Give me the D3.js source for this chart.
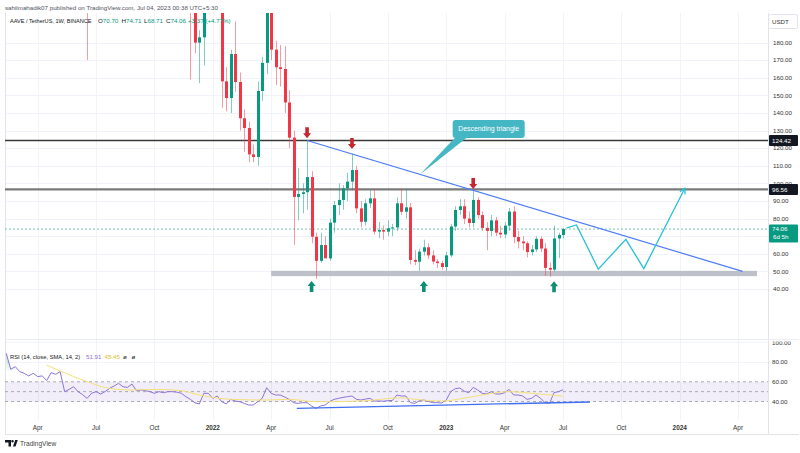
<!DOCTYPE html>
<html><head><meta charset="utf-8">
<script src="https://cdn.jsdelivr.net/npm/d3@7"></script>
<style>body{margin:0;background:#fff}svg{display:block;font-family:"Liberation Sans",Arial,sans-serif}</style>
</head><body><svg id="c" width="800" height="453"></svg>
<script>
// ---------------- DATA ----------------
const candleWeeks = ["2021-06-21","2021-11-29","2021-12-06","2021-12-13","2021-12-20","2021-12-27","2022-01-03","2022-01-10","2022-01-17","2022-01-24","2022-01-31","2022-02-07","2022-02-14","2022-02-21","2022-02-28","2022-03-07","2022-03-14","2022-03-21","2022-03-28","2022-04-04","2022-04-11","2022-04-18","2022-04-25","2022-05-02","2022-05-09","2022-05-16","2022-05-23","2022-05-30","2022-06-06","2022-06-13","2022-06-20","2022-06-27","2022-07-04","2022-07-11","2022-07-18","2022-07-25","2022-08-01","2022-08-08","2022-08-15","2022-08-22","2022-08-29","2022-09-05","2022-09-12","2022-09-19","2022-09-26","2022-10-03","2022-10-10","2022-10-17","2022-10-24","2022-10-31","2022-11-07","2022-11-14","2022-11-21","2022-11-28","2022-12-05","2022-12-12","2022-12-19","2022-12-26","2023-01-02","2023-01-09","2023-01-16","2023-01-23","2023-01-30","2023-02-06","2023-02-13","2023-02-20","2023-02-27","2023-03-06","2023-03-13","2023-03-20","2023-03-27","2023-04-03","2023-04-10","2023-04-17","2023-04-24","2023-05-01","2023-05-08","2023-05-15","2023-05-22","2023-05-29","2023-06-05","2023-06-12","2023-06-19","2023-06-26","2023-07-03"];
const opens  = [285,230,205,180,183,205,218,225,215,158,148.5,173.5,157.6,137,131.5,116.5,115,152.5,168.5,230,176,166,165,146,126,92.3,94,95,103.6,69.7,56,65,57.4,77.7,87.7,90.6,97.2,101,107.6,85.8,78.2,88.7,91.5,72.6,73.5,72.6,74.5,75,88.7,83.9,86.4,56.5,55.5,61.2,63.7,59.1,55.6,54.7,52.5,59.1,75.5,84.9,87,80,77.5,90.6,82,74.7,73,79,72,71,76,84,69.5,67,66,61,62.5,68.5,63,52,51,68.7,70.7];
const highs  = [300,250,214,187,215,232,245,240,222,166,176,192,163,142,135,122,158,172,260,240,181,178.6,178,153,130,108.7,100,124.4,107,72,72,70,80,90,100,99,106,117,110,90,91,96,97,78,76,79,77,92,97,97,89,62,63,68,66,62,57,56,61,77,87,91,91,84,96.5,92,84,78,82,81,76,78,86,87,73,70,67,65,70,70,66,55,76,72,74.71];
const lows   = [170,159,174,157,167,199,200,203,143,141,140,152,130,118,112,112,110,147,162,170,156,155,140,120,65,79,83,85,66,45.7,55,58,56,72,82,85,90,96,83,75,76,86,71,69,68,70,70,73,82,80,54,53.6,50.2,59,57,54,52,51,50.2,58,73,82,77,75,75,80,73,62,70,70,69,69,73,66,63,62,58,59,61,61,47.5,47,50,57.6,68.71];
const closes = [250,205,180,183,205,218,225,215,158,148.5,173.5,157.6,137,131.5,116.5,115,152.5,168.5,230,176,166,165,146,126,92.3,94,95,103.6,69.7,56,65,57.4,77.7,87.7,90.6,97.2,101,107.6,85.8,78.2,88.7,91.5,72.6,73.5,72.6,74.5,75,88.7,83.9,86.4,56.5,55.5,61.2,63.7,59.1,55.6,54.7,52.5,59.1,75.5,84.9,87,80,77.5,90.6,82,74.7,73,79,72,71,76,84,69.5,67,66,61,62.5,68.5,63,52,51,68.7,70.7,74.06];

const rsiStartWeek = "2021-02-15";
const rsiValues = [88.9,72.7,75.4,70.3,68.6,66.0,68.6,65.3,66.0,61.2,69.3,67.6,70.3,
 50.0,52.3,55.0,50.0,47.0,43.2,48.3,50.0,47.6,50.0,
 53.3,55.7,58.4,55.0,54.3,57.7,51.0,51.7,51.0,50.0,
 48.3,50.0,48.9,50.0,50.0,49.5,48.3,44.9,42.2,38.8,
 37.5,48.3,48.3,43.2,45.6,39.8,37.5,42.2,40.5,39.8,
 38.1,36.4,36.4,39.8,43.2,54.0,48.3,46.6,46.6,44.6,
 42.2,38.8,38.1,38.8,38.8,35.4,33.0,35.4,36.4,39.8,
 42.2,43.2,44.2,44.9,45.6,42.2,41.5,42.5,43.2,40.5,
 40.5,40.3,40.8,41.0,46.6,45.6,45.6,38.8,38.1,40.8,
 41.5,40.1,38.8,38.8,38.5,41.5,50.0,53.0,53.7,50.5,
 48.9,54.3,51.7,48.3,47.6,50.0,47.6,47.6,48.9,52.3,
 46.6,46.6,45.6,42.2,43.2,46.6,43.2,38.8,38.1,49.0,
 50.0,51.91];
const rsiMaWeeks = ["2021-04-19","2021-05-10","2021-06-21","2021-07-26","2021-08-30","2021-10-11","2021-11-15","2021-12-13","2022-01-31","2022-03-28","2022-05-02","2022-06-13","2022-07-11","2022-08-29","2022-10-24","2022-11-14","2022-12-26","2023-02-06","2023-02-27","2023-04-10","2023-05-15","2023-07-03"];
const rsiMaValues = [77.0,71.0,60.2,53.3,51.7,52.3,51.0,46.6,42.2,41.5,42.2,39.8,39.8,40.8,43.8,42.2,40.5,44.2,46.6,50.0,48.3,45.45];

const priceTicks = [40,50,60,70,80,90,100,110,120,130,140,150,160,170,180];
const rsiTicks = [100,80,60,40];
const timeTickWeeks = ["2021-04-05","2021-07-05","2021-10-04","2022-01-03","2022-04-04","2022-07-04","2022-10-03","2023-01-02","2023-04-03","2023-07-03","2023-10-02","2024-01-01","2024-04-01"];
const timeTickLabels = ["Apr","Jul","Oct","2022","Apr","Jul","Oct","2023","Apr","Jul","Oct","2024","Apr"];

const resistanceLevels = [124.42, 96.56];
const lastPrice = 74.06;
const supportZone = [47.3, 50.3];
const triangleLine = [["2022-05-30",124.4],["2024-04-08",50.0]];
const projectionWeeks = ["2023-07-09","2023-07-24","2023-08-27","2023-10-09","2023-11-06","2024-01-09"];
const projectionValues = [74.8,76.4,51.3,68.2,51.6,97.2];
const downArrowWeeks = ["2022-05-30","2022-08-08","2023-02-13"];
const downArrowValues = [125.6,119.6,96.8];
const upArrowWeeks = ["2022-06-06","2022-11-28","2023-06-19"];
const upArrowValues = [44.5,44.6,44.4];
const rsiTrend = [["2022-05-14",33.1],["2023-08-14",39.5]];

// ---------------- LAYOUT ----------------
const P = d3.utcParse("%Y-%m-%d");
const PL=5, PR=768, MT=13, MB=339, RT=340, RB=420, AXB=434;
const svg = d3.select("#c");
const x = d3.scaleUtc().domain([P("2021-04-05"), P("2024-04-01")]).range([37.7, 738.1]);
const y = d3.scaleLinear().domain([40,180]).range([289, 42.6]);
const yr = d3.scaleLinear().domain([40,80]).range([401.5, 362.1]);
const UP="#089981", DN="#f23645";
const defs = svg.append("defs");
defs.append("clipPath").attr("id","cm").append("rect").attr("x",PL).attr("y",MT).attr("width",PR-PL).attr("height",MB-MT);
defs.append("clipPath").attr("id","cr").append("rect").attr("x",PL).attr("y",RT).attr("width",PR-PL).attr("height",RB-RT);
defs.append("clipPath").attr("id","ca").append("rect").attr("x",PR).attr("y",341.5).attr("width",800-PR).attr("height",RB-341.5);
const gr = defs.append("linearGradient").attr("id","ob").attr("gradientUnits","userSpaceOnUse")
  .attr("x1",0).attr("x2",0).attr("y1",yr(100)).attr("y2",yr(70));
gr.append("stop").attr("offset","0").attr("stop-color",UP).attr("stop-opacity",0.55);
gr.append("stop").attr("offset","1").attr("stop-color",UP).attr("stop-opacity",0);

// grid
const grid = svg.append("g").attr("stroke","#f0f3fa").attr("stroke-width",1);
timeTickWeeks.forEach(d=>{
  const xx=Math.round(x(P(d)))+0.5;
  grid.append("line").attr("x1",xx).attr("x2",xx).attr("y1",MT).attr("y2",MB);
  grid.append("line").attr("x1",xx).attr("x2",xx).attr("y1",RT).attr("y2",RB);
});
priceTicks.forEach(v=>{const yy=Math.round(y(v))+0.5; grid.append("line").attr("x1",PL).attr("x2",PR).attr("y1",yy).attr("y2",yy);});
[100,80,20].forEach(v=>{const yy=Math.round(yr(v))+0.5; if(yy>RT&&yy<RB) grid.append("line").attr("x1",PL).attr("x2",PR).attr("y1",yy).attr("y2",yy);});

// frame
const fr = svg.append("g").attr("stroke","#e0e3eb").attr("stroke-width",1);
fr.append("line").attr("x1",PL+0.5).attr("x2",PL+0.5).attr("y1",MT).attr("y2",AXB);
fr.append("line").attr("x1",PR+0.5).attr("x2",PR+0.5).attr("y1",MT).attr("y2",AXB);
fr.append("line").attr("x1",PL).attr("x2",799).attr("y1",MB+0.5).attr("y2",MB+0.5).attr("stroke","#eceef3");
fr.append("line").attr("x1",PL).attr("x2",799).attr("y1",AXB+0.5).attr("y2",AXB+0.5);

// main pane
const m = svg.append("g").attr("clip-path","url(#cm)");
m.append("rect").attr("x",x(P("2022-04-04"))).attr("width",757-x(P("2022-04-04")))
  .attr("y",y(supportZone[1])).attr("height",y(supportZone[0])-y(supportZone[1])).attr("fill","#b2b5be").attr("opacity",0.85);
resistanceLevels.forEach((v,i)=>{
  m.append("line").attr("x1",PL).attr("x2",PR).attr("y1",y(v)).attr("y2",y(v))
   .attr("stroke",i?"#7a7a7a":"#3a3a3a").attr("stroke-width",i?2.2:1.5);
});
const candles = candleWeeks.map((d,i)=>({d:P(d),o:opens[i],h:highs[i],l:lows[i],c:closes[i]}));
const cg = m.append("g");
cg.selectAll("line").data(candles).join("line")
  .attr("x1",d=>Math.round(x(d.d))+0.5).attr("x2",d=>Math.round(x(d.d))+0.5)
  .attr("y1",d=>y(d.h)).attr("y2",d=>y(d.l))
  .attr("stroke",d=>d.c>=d.o?UP:DN).attr("stroke-opacity",0.5).attr("stroke-width",1);
cg.selectAll("rect").data(candles).join("rect")
  .attr("x",d=>Math.round(x(d.d))-1).attr("width",3)
  .attr("y",d=>y(Math.max(d.o,d.c))).attr("height",d=>Math.max(1,Math.abs(y(d.o)-y(d.c))))
  .attr("fill",d=>d.c>=d.o?UP:DN);
m.append("line").attr("x1",PL).attr("x2",PR).attr("y1",y(lastPrice)).attr("y2",y(lastPrice))
  .attr("stroke",UP).attr("stroke-opacity",0.55).attr("stroke-dasharray","2,2").attr("stroke-width",1);
// triangle trendline
m.append("line").attr("x1",x(P(triangleLine[0][0]))).attr("y1",y(triangleLine[0][1]))
  .attr("x2",x(P(triangleLine[1][0]))).attr("y2",y(triangleLine[1][1]))
  .attr("stroke","#4d7cf3").attr("stroke-width",1.2);
// projection
const pts = projectionWeeks.map((d,i)=>[x(P(d)),y(projectionValues[i])]);
m.append("path").attr("d",d3.line()(pts)).attr("fill","none").attr("stroke","#27c0d6").attr("stroke-width",1.3);
{
  const a=pts[pts.length-1], b=pts[pts.length-2];
  const ang=Math.atan2(a[1]-b[1],a[0]-b[0]);
  const L=6, s=0.5;
  const p1=[a[0]-L*Math.cos(ang-s),a[1]-L*Math.sin(ang-s)], p2=[a[0]-L*Math.cos(ang+s),a[1]-L*Math.sin(ang+s)];
  m.append("path").attr("d",d3.line()([p1,a,p2])).attr("fill","none").attr("stroke","#27c0d6").attr("stroke-width",1.3);
}
// callout
{
  const t0=P(triangleLine[0][0]), t1=P(triangleLine[1][0]);
  const tipD=P("2022-11-22");
  const f=(tipD-t0)/(t1-t0);
  const tip=[x(tipD), y(triangleLine[0][1]+f*(triangleLine[1][1]-triangleLine[0][1]))];
  const bx=x(P("2023-01-12")), by=120, bw=72, bh=18;
  m.append("path").attr("d",`M${bx+3},${by+bh-1} L${bx+15},${by+bh-1} L${tip[0]},${tip[1]} Z`).attr("fill","#45b6c3");
  m.append("rect").attr("x",bx).attr("y",by).attr("width",bw).attr("height",bh).attr("rx",3).attr("fill","#45b6c3");
  m.append("text").attr("x",bx+bw/2).attr("y",by+bh/2+2.4).attr("text-anchor","middle").attr("font-size",6.9).attr("fill","#fff").text("Descending triangle");
}
// arrows
function arrow(cx,tip,dir,col){
  const s=dir;
  const d=`M${cx-1.8},${tip-11*s} L${cx+1.8},${tip-11*s} L${cx+1.8},${tip-5*s} L${cx+4},${tip-5*s} L${cx},${tip} L${cx-4},${tip-5*s} L${cx-1.8},${tip-5*s} Z`;
  m.append("path").attr("d",d).attr("fill",col);
}
downArrowWeeks.forEach((d,i)=>arrow(x(P(d)),y(downArrowValues[i]),1,"#c8262f"));
upArrowWeeks.forEach((d,i)=>arrow(x(P(d)),y(upArrowValues[i]),-1,"#0c8f72"));

// RSI pane
const r = svg.append("g").attr("clip-path","url(#cr)");
r.append("rect").attr("x",PL).attr("width",PR-PL).attr("y",yr(60)).attr("height",yr(40)-yr(60)).attr("fill","#7e57c2").attr("opacity",0.1);
[60,50,40].forEach(v=>r.append("line").attr("x1",PL).attr("x2",PR).attr("y1",yr(v)).attr("y2",yr(v))
  .attr("stroke","#9598a1").attr("stroke-dasharray","3,3").attr("stroke-width",0.8));
const rs0=P(rsiStartWeek);
const rsi = rsiValues.map((v,i)=>[d3.utcWeek.offset(rs0,i),v]);
r.append("path").attr("d",d3.area().x(d=>x(d[0])).y0(yr(70)).y1(d=>yr(Math.max(70,d[1])))(rsi)).attr("fill","url(#ob)");
r.append("path").attr("d",d3.line().x(d=>x(d[0])).y(d=>yr(d[1]))(rsi)).attr("fill","none").attr("stroke","#8e73d6").attr("stroke-width",1);
const ma = rsiMaWeeks.map((d,i)=>[P(d),rsiMaValues[i]]);
r.append("path").attr("d",d3.line().curve(d3.curveMonotoneX).x(d=>x(d[0])).y(d=>yr(d[1]))(ma)).attr("fill","none").attr("stroke","#f4e07a").attr("stroke-width",1);
r.append("line").attr("x1",x(P(rsiTrend[0][0]))).attr("y1",yr(rsiTrend[0][1])).attr("x2",x(P(rsiTrend[1][0]))).attr("y2",yr(rsiTrend[1][1]))
  .attr("stroke","#3f6ff0").attr("stroke-width",1.3);

// axes text
const T = svg.append("g").attr("font-size",6.2).attr("fill","#333");
priceTicks.forEach(v=>T.append("text").attr("x",773).attr("y",y(v)+2.2).text(d3.format(".2f")(v)));
const TA = svg.append("g").attr("clip-path","url(#ca)").attr("font-size",6.2).attr("fill","#333");
rsiTicks.forEach(v=>TA.append("text").attr("x",772).attr("y",yr(v)+2.2).text(d3.format(".2f")(v)));
timeTickWeeks.forEach((d,i)=>{
  const isY=/^\d{4}$/.test(timeTickLabels[i]);
  T.append("text").attr("x",x(P(d))).attr("y",430).attr("text-anchor","middle").attr("font-size",6.4)
   .attr("font-weight",isY?"bold":"normal").text(timeTickLabels[i]);
});
// price labels
function tag(v,txt,col,two){
  const yy=y(v), h=two?18:11;
  svg.append("rect").attr("x",769).attr("y",two?yy-4.5:yy-h/2).attr("width",29).attr("height",h).attr("rx",1).attr("fill",col);
  svg.append("text").attr("x",772).attr("y",(two?yy-4.5+6.8:yy+2.2)).attr("font-size",6.2).attr("fill","#fff").text(txt);
  if(two) svg.append("text").attr("x",773).attr("y",yy-4.5+14.5).attr("font-size",6.2).attr("fill","#fff").text("6d 5h");
}
tag(124.42,"124.42","#131722");
tag(96.56,"96.56","#131722");
tag(lastPrice,"74.06",UP,true);
svg.append("rect").attr("x",768.5).attr("y",14.5).attr("width",29).attr("height",14).attr("rx",2).attr("fill","#fff").attr("stroke","#e0e3eb");
svg.append("text").attr("x",772).attr("y",24).attr("font-size",6.2).attr("fill","#333").text("USDT");

// header
svg.append("text").attr("x",5).attr("y",9.5).attr("font-size",6.2).attr("fill","#50535e")
  .text("sahilmahadik07 published on TradingView.com, Jul 04, 2023 00:38 UTC+5:30");
const hg = svg.append("g").attr("font-size",6.2);
hg.append("text").attr("x",10).attr("y",22.5).attr("fill","#131722").attr("font-size",5.6).text("AAVE / TetherUS, 1W, BINANCE");
[["O","70.70",98],["H","74.71",121.5],["L","68.71",144],["C","74.06",166]].forEach(([k,v,xx])=>{
  const t=hg.append("text").attr("x",xx).attr("y",22.5).attr("fill","#131722");
  t.append("tspan").text(k); t.append("tspan").attr("fill",UP).text(v);
});
hg.append("text").attr("x",188).attr("y",22.5).attr("fill",UP).text("+3.37 (+4.77%)");
const rg = svg.append("g").attr("font-size",6.2);
rg.append("text").attr("x",10).attr("y",359).attr("fill","#131722").attr("font-size",5.8).text("RSI (14, close, SMA, 14, 2)");
rg.append("text").attr("x",86).attr("y",359).attr("fill","#8e73d6").text("51.91");
rg.append("text").attr("x",104.5).attr("y",359).attr("fill","#d9bd2e").text("45.45");
rg.append("text").attr("x",123).attr("y",359).attr("fill","#131722").text("ø");
rg.append("text").attr("x",131.5).attr("y",359).attr("fill","#131722").text("ø");

// logo
const lg = svg.append("g").attr("fill","#131722");
lg.append("path").attr("d","M5,440 h6 v6.5 h-2.5 v-4 h-3.5 Z M12.5,442.5 a1.3,1.3 0 1 1 0.01,0 Z M13,446.5 l2.2,-6.5 h2.6 l-2.3,6.5 Z");
lg.append("text").attr("x",20).attr("y",446).attr("font-size",6.6).attr("fill","#444").text("TradingView");
</script></body></html>
